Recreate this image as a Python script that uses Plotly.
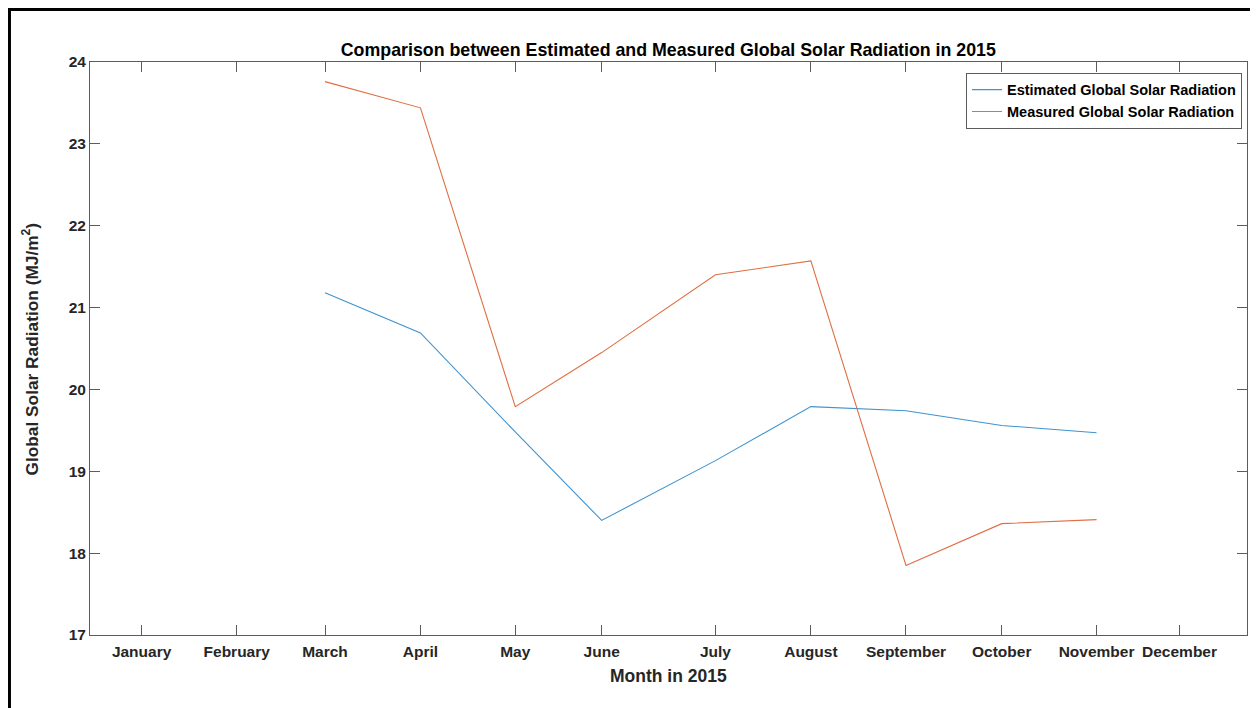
import plotly.graph_objects as go

# ---- data ----
months = ["January", "February", "March", "April", "May", "June", "July",
          "August", "September", "October", "November", "December"]
month_pos = [1, 31.6, 60.0, 90.7, 121.2, 149.0, 185.6, 216.3, 246.9, 277.7, 308.2, 334.9]
data_months = ["March", "April", "May", "June", "July", "August", "September", "October", "November"]
estimated = [21.18, 20.69, 19.48, 18.40, 19.13, 19.79, 19.74, 19.56, 19.47]
measured = [23.76, 23.44, 19.79, 20.45, 21.40, 21.57, 17.85, 18.36, 18.41]

x_data = [month_pos[months.index(m)] for m in data_months]

# ---- layout geometry (page pixels; page body has an 8px margin) ----
OFF = 8
W, H = 1258 - OFF, 708 - OFF
L, R, T, B = 90 - OFF, 1246.7 - OFF, 62 - OFF, 635.3 - OFF
PW, PH = R - L, B - T


def px(xp):
    return (xp - OFF - L) / PW


def py(yp):
    return (B - (yp - OFF)) / PH


FONT = "Liberation Sans, Arial, sans-serif"
TXT = "#262626"
AXC = "#5c5c5c"

fig = go.Figure()
fig.add_trace(go.Scatter(x=x_data, y=estimated, mode="lines",
                         name="Estimated Global Solar Radiation",
                         line=dict(color="#3f93ce", width=1.1)))
fig.add_trace(go.Scatter(x=x_data, y=measured, mode="lines",
                         name="Measured Global Solar Radiation",
                         line=dict(color="#e06e42", width=1.1)))

fig.update_layout(
    width=W, height=H,
    margin=dict(l=L, r=W - R, t=T, b=H - B, autoexpand=False),
    paper_bgcolor="white", plot_bgcolor="white",
    font=dict(family=FONT, color=TXT),
    showlegend=True,
    legend=dict(x=px(1241.7), y=py(72.7), xanchor="right", yanchor="top",
                bgcolor="white", bordercolor="#5c5c5c", borderwidth=1,
                font=dict(family=FONT, size=14.5, color="black", weight="bold"),
                tracegroupgap=0, itemwidth=30),
    title=dict(text="Comparison between Estimated and Measured Global Solar Radiation in 2015",
               x=(L + PW / 2) / W, xanchor="center", y=1 - (50 - OFF) / H, yanchor="middle",
               font=dict(family=FONT, size=17.8, color="black", weight="bold")),
    xaxis=dict(range=[-15.6, 356.6], tickmode="array", tickvals=month_pos, ticktext=months,
               showgrid=False, zeroline=False, showline=True, linecolor=AXC, linewidth=1,
               mirror="ticks", ticks="inside", ticklen=10, tickcolor=AXC, tickwidth=1,
               tickfont=dict(family=FONT, size=15.5, color=TXT, weight="bold"),
               ticklabelstandoff=2),
    yaxis=dict(range=[17, 24], tickmode="linear", tick0=17, dtick=1,
               showgrid=False, zeroline=False, showline=True, linecolor=AXC, linewidth=1,
               mirror="ticks", ticks="inside", ticklen=10, tickcolor=AXC, tickwidth=1,
               tickfont=dict(family=FONT, size=15.5, color=TXT, weight="bold"),
               ticklabelstandoff=0),
    annotations=[
        dict(text="Month in 2015", xref="paper", yref="paper",
             x=0.5, y=py(676), xanchor="center", yanchor="middle", showarrow=False,
             font=dict(family=FONT, size=17.5, color=TXT, weight="bold")),
        dict(text="Global Solar Radiation (MJ/m<sup>2</sup>)", xref="paper", yref="paper",
             x=px(30), y=0.5, xanchor="center", yanchor="middle", textangle=-90,
             showarrow=False,
             font=dict(family=FONT, size=17.3, color=TXT, weight="bold")),
    ],
    shapes=[
        dict(type="line", xref="paper", yref="paper", x0=px(9), x1=px(1300),
             y0=py(9.5), y1=py(9.5), line=dict(color="black", width=3)),
        dict(type="line", xref="paper", yref="paper", x0=px(9.5), x1=px(9.5),
             y0=py(8), y1=py(760), line=dict(color="black", width=3)),
    ],
)

fig.write_html("out.html")
